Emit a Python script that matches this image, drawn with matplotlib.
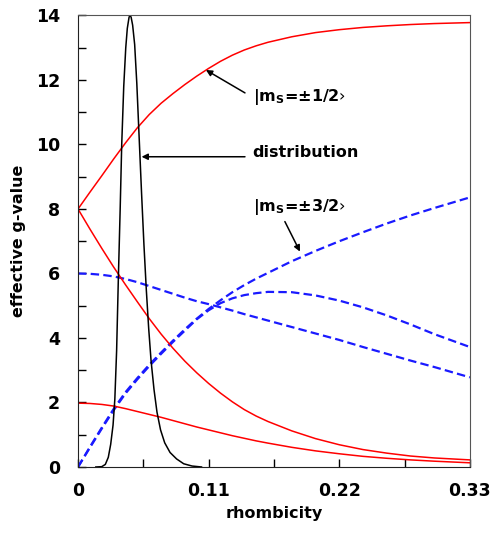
import numpy as np
import matplotlib
matplotlib.use('Agg')
from matplotlib import pyplot as plt
from matplotlib.ticker import MultipleLocator, FixedLocator

plt.rcParams['font.family'] = ['DejaVu Sans']
plt.rcParams['font.weight'] = 'bold'

## rhombicity grid the curves were read on
x_grid = [0, 0.01, 0.02, 0.03, 0.04, 0.05, 0.06, 0.07, 0.08, 0.09, 0.10, 0.11, 0.12,
          0.13, 0.14, 0.15, 0.16, 0.18, 0.20, 0.22, 0.24, 0.26, 0.28, 0.30, 0.33]

## |ms=+-1/2> doublet (red, solid)
g_r1 = [8.0, 8.52, 9.03, 9.55, 10.05, 10.52, 10.93, 11.28, 11.58, 11.86, 12.12, 12.36, 12.58,
        12.77, 12.93, 13.06, 13.17, 13.34, 13.47, 13.56, 13.63, 13.68, 13.72, 13.75, 13.78]
g_r2 = [8.0, 7.38, 6.78, 6.2, 5.65, 5.12, 4.6, 4.12, 3.68, 3.28, 2.92, 2.59, 2.29,
        2.02, 1.78, 1.58, 1.41, 1.12, 0.88, 0.69, 0.54, 0.43, 0.34, 0.28, 0.22]
g_r3 = [1.98, 1.97, 1.94, 1.89, 1.81, 1.72, 1.63, 1.54, 1.44, 1.34, 1.24, 1.15, 1.06,
        0.97, 0.89, 0.81, 0.74, 0.61, 0.5, 0.41, 0.33, 0.27, 0.22, 0.18, 0.13]

## |ms=+-3/2> doublet (blue, dashed)
g_b1 = [6.0, 5.99, 5.96, 5.91, 5.83, 5.73, 5.61, 5.49, 5.37, 5.25, 5.14, 5.05, 4.95,
        4.85, 4.74, 4.64, 4.54, 4.34, 4.14, 3.94, 3.72, 3.51, 3.3, 3.1, 2.78]
g_b2 = [0, 0.6, 1.19, 1.76, 2.28, 2.72, 3.13, 3.51, 3.88, 4.23, 4.58, 4.86, 5.08,
        5.23, 5.33, 5.39, 5.43, 5.42, 5.32, 5.16, 4.95, 4.7, 4.42, 4.12, 3.72]
g_b3 = [0, 0.62, 1.22, 1.8, 2.32, 2.76, 3.17, 3.55, 3.92, 4.27, 4.6, 4.9, 5.17,
        5.42, 5.64, 5.84, 6.02, 6.38, 6.7, 7.0, 7.28, 7.55, 7.8, 8.03, 8.36]

## distribution (black)
x_d = [0.015, 0.020, 0.023, 0.0255, 0.0275, 0.0295, 0.031, 0.0325, 0.034, 0.0355, 0.0368, 0.0385,
       0.0402, 0.0415, 0.043, 0.0438, 0.0447, 0.046, 0.0477, 0.0495, 0.0515, 0.0535, 0.0555, 0.0575,
       0.0595, 0.0615, 0.064, 0.0665, 0.0695, 0.073, 0.0775, 0.083, 0.089, 0.096, 0.104]
g_d = [0, 0.01, 0.08, 0.3, 0.7, 1.3, 2.1, 3.6, 5.9, 8.0, 10.0, 11.8,
       13.0, 13.6, 13.95, 14.0, 13.95, 13.7, 13.1, 11.9, 10.2, 8.5, 6.9, 5.5,
       4.3, 3.3, 2.4, 1.7, 1.15, 0.75, 0.45, 0.25, 0.1, 0.03, 0.0]

xticks = [0, 0.11, 0.22, 0.33]
xticklabels = ['0', '0.11', '0.22', '0.33']

fig = plt.figure(figsize=(4.91, 5.40), dpi=100)
ax = fig.add_axes([0.1589, 0.1352, 0.7981, 0.8361])

dash = (3.8, 1.9)
for gs in [g_b1, g_b2, g_b3]:
    ax.plot(x_grid, gs, color='#1a1aff', lw=1.6, dashes=dash)
for gs in [g_r1, g_r2, g_r3]:
    ax.plot(x_grid, gs, color='#ff0000', lw=1.1)
ax.plot(x_d, g_d, color='black', lw=1.1)

ax.set_xlim(0, 0.33)
ax.set_ylim(0, 14)
ax.xaxis.set_major_locator(FixedLocator(xticks))
ax.set_xticklabels(xticklabels)
ax.xaxis.set_minor_locator(MultipleLocator(0.055))
ax.yaxis.set_major_locator(MultipleLocator(2))
ax.yaxis.set_minor_locator(MultipleLocator(1))
ax.tick_params(which='both', direction='in', length=6, width=1, top=False, right=False)
ax.tick_params(axis='y', which='major', pad=13, labelsize=12.5)
ax.tick_params(axis='x', which='major', pad=11, labelsize=12.5)
for s in ['left', 'bottom']:
    ax.spines[s].set_color('#222222')
for s in ['top', 'right']:
    ax.spines[s].set_color('#555555')

ax.set_xlabel('rhombicity', fontsize=11.5, fontweight='bold', labelpad=4)
ax.set_ylabel('effective g-value', fontsize=11.5, fontweight='bold', labelpad=7)

arrow = dict(arrowstyle='-|>', color='black', lw=1.1, mutation_scale=9, shrinkA=0, shrinkB=0)
ax.annotate('', xy=(0.1077, 12.31), xytext=(0.1406, 11.6), arrowprops=arrow)
ax.text(0.1473, 11.47, '|m$_\\mathregular{S}$=±1/2›', fontsize=11.5, fontweight='bold', va='center')
ax.annotate('', xy=(0.0535, 9.62), xytext=(0.1406, 9.62), arrowprops=arrow)
ax.text(0.1465, 9.74, 'distribution', fontsize=11.5, fontweight='bold', va='center')
ax.annotate('', xy=(0.1869, 6.68), xytext=(0.1742, 7.61), arrowprops=arrow)
ax.text(0.1473, 8.06, '|m$_\\mathregular{S}$=±3/2›', fontsize=11.5, fontweight='bold', va='center')

plt.savefig('out.png', dpi=100)
